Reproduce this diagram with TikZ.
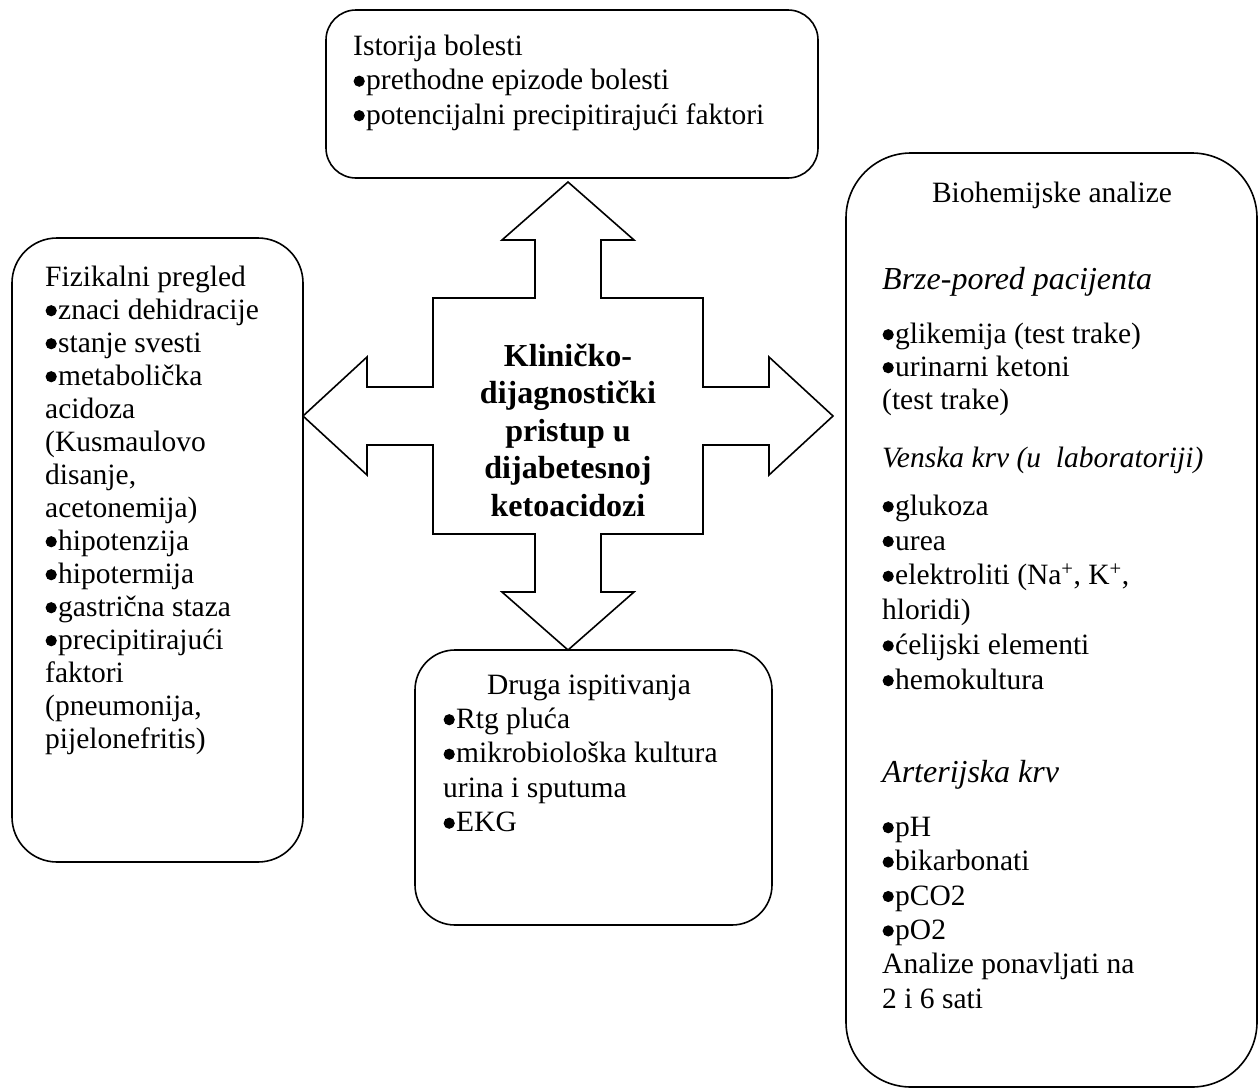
\documentclass[tikz,border=0pt]{standalone}
\usepackage{fontspec}
\setmainfont{Liberation Serif}
\usetikzlibrary{positioning}
\newcommand{\prvaLinija}{\rule{0pt}{22pt}}
\newcommand{\tacka}{\tikz[baseline=0pt]{\path (0pt,0pt) (13pt,0pt); \fill (6pt,8.5pt) circle[radius=5.6pt];}}

\tikzset{
  infobox/.style={draw, line width=1.6pt, rounded corners=#1, inner sep=0pt},
  listtext/.style={inner sep=0pt, align=left, anchor=north west,
    font=\fontsize{29.5}{#1}\selectfont},
  headtext/.style={inner sep=0pt, font=\fontsize{29.5}{33}\selectfont},
  sectiontext/.style={inner sep=0pt, anchor=base west, font=\fontsize{32}{37}\selectfont\itshape},
  quadarrow/.style={draw, line width=1.6pt, line join=miter, fill=white}
}

\begin{document}
\begin{tikzpicture}[x=1pt, y=-1pt]
  \useasboundingbox (0,0) rectangle (1259,1090);

  % Boxes
  \node[infobox=30pt, minimum width=492pt, minimum height=168pt] (istorija) at (572,94) {};
  \node[infobox=45pt, minimum width=291pt, minimum height=624pt] (fizikalni) at (157.5,550) {};
  \node[infobox=65pt, minimum width=411pt, minimum height=934pt] (biohem) at (1051.5,620) {};
  \node[infobox=40pt, minimum width=357pt, minimum height=275pt] (druga) at (593.5,787.5) {};

  % Central four-way arrow
  \draw[quadarrow]
    (568,182) -- (634,240) -- (601,240) -- (601,298) -- (703,298) -- (703,387)
    -- (769,387) -- (769,357) -- (833,416) -- (769,475) -- (769,445) -- (703,445)
    -- (703,534) -- (601,534) -- (601,592) -- (634,592) -- (568,650) -- (502,592)
    -- (535,592) -- (535,534) -- (433,534) -- (433,445) -- (367,445) -- (367,475)
    -- (303,416) -- (367,357) -- (367,387) -- (433,387) -- (433,298) -- (535,298)
    -- (535,240) -- (502,240) -- cycle;
  \node[inner sep=0pt, anchor=north, align=center, font=\fontsize{32}{37.5}\selectfont\bfseries]
    (pristup) at (568,343) {\rule{0pt}{23pt}Kliničko-\\dijagnostički\\pristup u\\dijabetesnoj\\ketoacidozi};

  % Istorija bolesti
  \node[listtext=34.5] (istorijaTekst) at (353,33)
    {\prvaLinija Istorija bolesti\\\tacka prethodne epizode bolesti\\\tacka potencijalni precipitirajući faktori};

  % Fizikalni pregled
  \node[listtext=33] (fizikalniTekst) at (45,264)
    {\prvaLinija Fizikalni pregled\\\tacka znaci dehidracije\\\tacka stanje svesti\\\tacka metabolička\\acidoza\\(Kusmaulovo\\disanje,\\acetonemija)\\\tacka hipotenzija\\\tacka hipotermija\\\tacka gastrična staza\\\tacka precipitirajući\\faktori\\(pneumonija,\\pijelonefritis)};

  % Druga ispitivanja
  \node[headtext, anchor=base] (drugaNaslov) at (589,694) {Druga ispitivanja};
  \node[listtext=34.5] (drugaLista) at (443,706)
    {\prvaLinija\tacka Rtg pluća\\\tacka mikrobiološka kultura\\urina i sputuma\\\tacka EKG};

  % Biohemijske analize
  \node[headtext, anchor=base] (biohemNaslov) at (1052,202) {Biohemijske analize};
  \node[sectiontext] (brze) at (882,289) {Brze-pored pacijenta};
  \node[listtext=33] (brzeLista) at (882,321)
    {\prvaLinija\tacka glikemija (test trake)\\\tacka urinarni ketoni\\(test trake)};
  \node[sectiontext, font=\fontsize{29.5}{34}\selectfont\itshape] (venska) at (882,467)
    {Venska krv (u\ \ laboratoriji)};
  \node[listtext=34.8] (venskaLista) at (882,493)
    {\prvaLinija\tacka glukoza\\\tacka urea\\\tacka elektroliti (Na\textsuperscript{+}, K\textsuperscript{+},\\hloridi)\\\tacka ćelijski elementi\\\tacka hemokultura};
  \node[sectiontext] (arterijska) at (882,782) {Arterijska krv};
  \node[listtext=34.4] (arterijskaLista) at (882,814)
    {\prvaLinija\tacka pH\\\tacka bikarbonati\\\tacka pCO2\\\tacka pO2\\Analize ponavljati na\\2 i 6 sati};
\end{tikzpicture}
\end{document}
